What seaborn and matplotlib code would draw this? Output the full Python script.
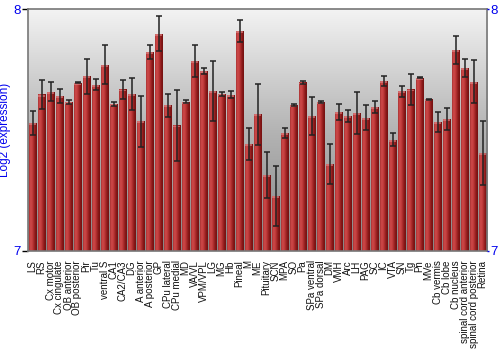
import numpy as np
import pandas as pd
import matplotlib
matplotlib.use("Agg")
import matplotlib.pyplot as plt
import seaborn as sns
from matplotlib.colors import LinearSegmentedColormap

regions = ["LS", "RS", "Cx motor", "Cx cingulate", "OB anterior", "OB posterior", "Pir", "Tu",
           "ventral S", "CA1", "CA2/CA3", "DG", "A anterior", "A posterior", "GP", "CPu lateral",
           "CPu medial", "MD", "VA/VL", "VPM/VPL", "LG", "MG", "Hb", "Pineal", "M", "ME",
           "Pituitary", "SCN", "MPA", "SO", "Pa", "SPa ventral", "SPa dorsal", "DM", "VMH", "Arc",
           "LH", "PAG", "SC", "IC", "VTA", "SN", "Tg", "Pn", "MVe", "Cb vermis", "Cb lobe",
           "Cb nucleus", "spinal cord anterior", "spinal cord posterior", "Retina"]

expression = [7.528, 7.646, 7.658, 7.640, 7.615, 7.695, 7.721, 7.687, 7.770, 7.607, 7.667,
              7.648, 7.535, 7.822, 7.898, 7.601, 7.518, 7.616, 7.785, 7.745, 7.662, 7.649,
              7.645, 7.908, 7.442, 7.564, 7.313, 7.226, 7.486, 7.601, 7.696, 7.557, 7.616,
              7.359, 7.572, 7.558, 7.569, 7.550, 7.595, 7.703, 7.459, 7.660, 7.667, 7.716,
              7.627, 7.532, 7.544, 7.831, 7.756, 7.699, 7.405]

error = [0.048, 0.060, 0.040, 0.030, 0.008, 0.003, 0.074, 0.024, 0.082, 0.010, 0.040,
         0.066, 0.107, 0.028, 0.073, 0.046, 0.146, 0.006, 0.065, 0.012, 0.125, 0.009,
         0.015, 0.046, 0.066, 0.125, 0.096, 0.126, 0.020, 0.004, 0.006, 0.077, 0.003,
         0.083, 0.033, 0.024, 0.087, 0.051, 0.026, 0.022, 0.026, 0.023, 0.063, 0.002,
         0.002, 0.040, 0.046, 0.058, 0.036, 0.089, 0.132]

y_ticks = [7, 8]
y_label = "Log2 (expression)"

df = pd.DataFrame({"region": regions, "expression": expression, "error": error})

sns.set_theme(style="white")
plt.rcParams['font.family'] = ['Liberation Sans', 'DejaVu Sans']

fig = plt.figure(figsize=(5, 3.5), dpi=100)
ax = fig.add_axes([0.056, 0.284, 0.918, 0.690])

sns.barplot(data=df, x="region", y="expression", ax=ax, color="#b03030",
            width=0.86, errorbar=None, zorder=2)
ymin, ymax = 7, 8
ax.set_ylim(ymin, ymax)
ax.set_xlim(-0.5, len(regions) - 0.5)

# background vertical gradient
bg = LinearSegmentedColormap.from_list("bg", ["#868686", "#b4b4b4", "#f3f3f3"])
grad_v = np.linspace(0, 1, 256).reshape(-1, 1)
ax.imshow(grad_v, cmap=bg, aspect="auto", origin="lower",
          extent=[-0.5, len(regions) - 0.5, ymin, ymax], zorder=0)

# cylindrical shading on bars
barcm = LinearSegmentedColormap.from_list(
    "bar", ["#a83232", "#cf4a4a", "#c43e3e", "#a82a2a", "#861818", "#741010"])
grad_h = np.linspace(0, 1, 64).reshape(1, -1)
for p in list(ax.patches):
    x0, y0 = p.get_x(), p.get_y()
    w, h = p.get_width(), p.get_height()
    top = y0 + h
    bot = max(y0, ymin)
    ax.imshow(grad_h, cmap=barcm, aspect="auto",
              extent=[x0, x0 + w, bot, top], zorder=2.5)
    p.set_facecolor("none")
    p.set_edgecolor("none")
    ax.fill_between([x0, x0 + w], top - 0.008, top, color="#e08a8a",
                    alpha=0.6, zorder=2.6, linewidth=0)

ax.set_xlim(-0.5, len(regions) - 0.5)
ax.set_ylim(ymin, ymax)

ax.errorbar(np.arange(len(regions)), df["expression"], yerr=df["error"],
            fmt="none", ecolor="#222222", elinewidth=1.1, capsize=2.5,
            capthick=1.1, zorder=3)

ax.set_yticks(y_ticks)
ax.set_yticklabels([str(t) for t in y_ticks])
ax.tick_params(axis="y", which="both", left=True, right=False, labelleft=True,
               labelright=False, length=4, width=1, color="black",
               labelcolor="#0000ee", labelsize=9.5, pad=1)
ax.tick_params(axis="x", bottom=False, labelsize=7, pad=1, labelcolor="#111111")
plt.setp(ax.get_xticklabels(), rotation=90)

# right-hand tick labels
ax2 = ax.twinx()
ax2.set_ylim(ymin, ymax)
ax2.set_yticks(y_ticks)
ax2.set_yticklabels([str(t) for t in y_ticks])
ax2.tick_params(axis="y", right=True, length=1.5, width=1, color="#0000ee",
                labelcolor="#0000ee", labelsize=9.5, pad=1)
ax2.grid(False)
for s in ax2.spines.values():
    s.set_visible(False)

ax.set_xlabel("")
ax.set_ylabel(y_label, color="#0000ee", fontsize=8.5, labelpad=2)

for s in ax.spines.values():
    s.set_color("#777777")
    s.set_linewidth(1.2)
    s.set_zorder(5)

fig.savefig("out.png", dpi=100)
